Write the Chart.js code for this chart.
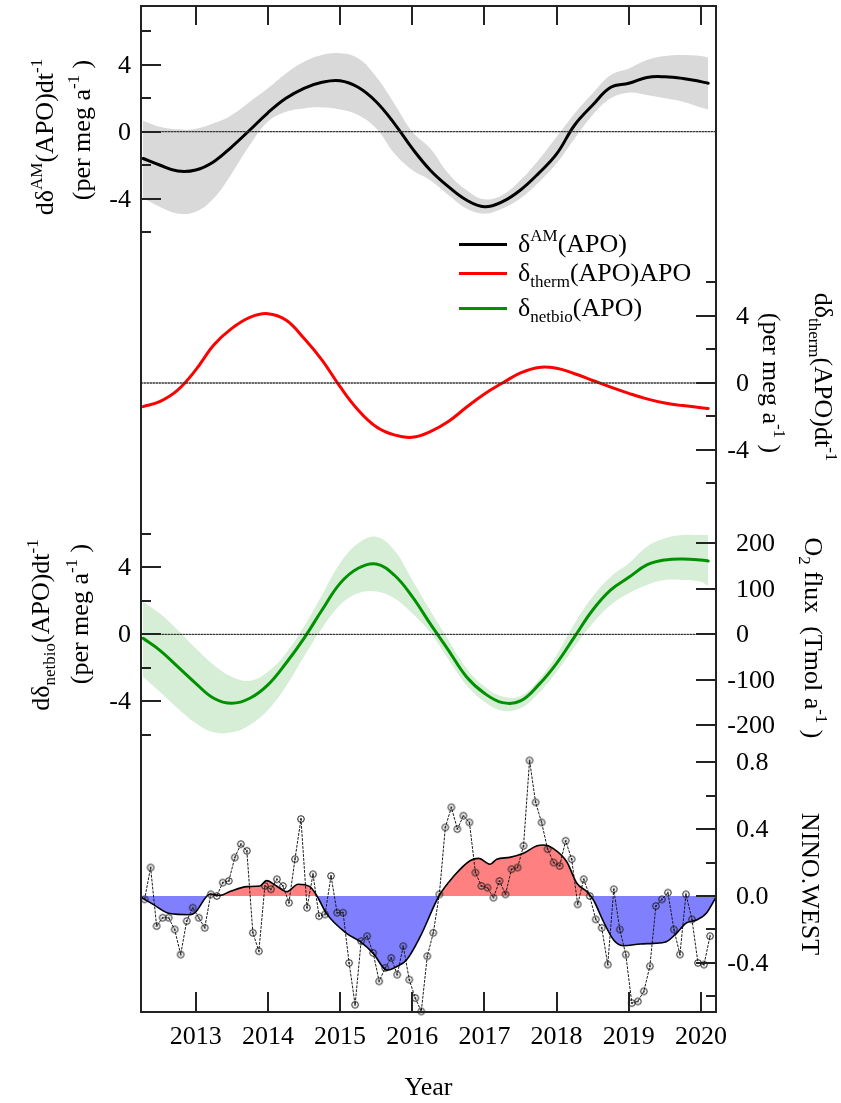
<!DOCTYPE html>
<html>
<head>
<meta charset="utf-8">
<title>APO flux components and NINO.WEST</title>
<script src="https://cdn.jsdelivr.net/npm/chart.js@4.4.1/dist/chart.umd.min.js"></script>
<style>
  html, body { margin: 0; padding: 0; background: #fff; }
  canvas { display: block; }
</style>
</head>
<body>
<canvas id="apoChart" width="841" height="1103"></canvas>
<script>
// --- DATA ---

// time axis of the three APO panels (decimal years)
const years = [2012.27, 2012.5, 2012.75, 2013, 2013.25, 2013.5, 2013.75, 2014, 2014.25, 2014.5, 2014.75,
  2015, 2015.25, 2015.5, 2015.75, 2016, 2016.25, 2016.5, 2016.75, 2017, 2017.25, 2017.5, 2017.75,
  2018, 2018.25, 2018.5, 2018.75, 2019, 2019.25, 2019.5, 2019.75, 2020, 2020.1];

// panel 1: d delta_AM(APO)/dt (per meg a-1) with its uncertainty band
const amLine = [-1.6, -1.99, -2.35, -2.29, -1.79, -0.9, 0.1, 1.13, 1.99, 2.59, 2.95,
  3.04, 2.65, 1.79, 0.5, -1.0, -2.3, -3.28, -4.08, -4.48, -4.18, -3.48, -2.49,
  -1.33, 0.4, 1.59, 2.65, 2.89, 3.24, 3.28, 3.18, 2.99, 2.89];
const amUpper = [0.66, 0.3, 0.14, 0.18, 0.5, 1.0, 1.79, 2.59, 3.48, 4.18, 4.58,
  4.68, 4.38, 3.28, 1.69, 0.0, -1.0, -2.49, -3.48, -4.04, -3.78, -2.89, -1.69,
  -0.3, 1.09, 2.29, 3.38, 3.78, 4.28, 4.52, 4.58, 4.52, 4.44];
const amLower = [-3.98, -4.48, -4.88, -4.78, -3.98, -2.49, -0.8, 0.6, 1.19, 1.39, 1.45,
  1.33, 1.0, 0.2, -1.29, -2.29, -2.9, -3.78, -4.58, -4.88, -4.58, -3.98, -3.04,
  -1.89, -0.4, 1.0, 1.99, 2.33, 2.19, 1.99, 1.79, 1.45, 1.33];

// panel 2: d delta_therm(APO)/dt
const thermLine = [-1.41, -1.11, -0.42, 0.78, 2.27, 3.26, 3.92, 4.14, 3.76, 2.67, 1.37,
  -0.22, -1.61, -2.61, -3.1, -3.24, -2.9, -2.3, -1.45, -0.65, 0.0, 0.6, 0.93,
  0.88, 0.55, 0.15, -0.25, -0.62, -0.95, -1.2, -1.35, -1.48, -1.52];

// panel 3: d delta_netbio(APO)/dt with its uncertainty band
const netbioLine = [-0.24, -0.94, -1.93, -2.93, -3.82, -4.12, -3.82, -3.02, -1.73, -0.24, 1.45,
  3.04, 3.94, 4.2, 3.54, 2.25, 0.62, -0.94, -2.53, -3.52, -4.08, -3.98, -3.02,
  -1.73, -0.14, 1.45, 2.65, 3.4, 4.14, 4.44, 4.5, 4.44, 4.38];
const netbioUpper = [1.95, 1.25, 0.26, -0.84, -1.83, -2.53, -2.77, -2.23, -1.13, 0.46, 2.35,
  4.24, 5.43, 5.83, 5.03, 3.24, 1.4, -0.34, -2.03, -3.12, -3.72, -3.68, -2.73,
  -1.23, 0.66, 2.25, 3.44, 4.24, 5.23, 5.73, 5.93, 5.93, 5.93];
const netbioLower = [-2.53, -3.42, -4.42, -5.31, -5.85, -5.85, -5.41, -4.52, -3.12, -1.33, 0.36,
  1.75, 2.45, 2.55, 2.15, 1.25, 0.1, -1.49, -3.02, -4.02, -4.56, -4.42, -3.52,
  -2.23, -0.74, 0.66, 1.75, 2.45, 2.95, 3.24, 3.24, 3.14, 2.89];

// panel 4: monthly NINO.WEST index, April 2012 .. February 2020
const ninoFirstMonth = { year: 2012, month: 4 };
const ninoMonthly = [-0.02, 0.17, -0.18, -0.13, -0.13, -0.20, -0.35, -0.15, -0.07, -0.13,
  -0.19, 0.01, 0.00, 0.08, 0.09, 0.23, 0.31, 0.27, -0.22, -0.33,
  0.06, 0.04, 0.10, 0.06, -0.04, 0.22, 0.46, -0.07, 0.13, -0.12,
  -0.11, 0.12, -0.10, -0.10, -0.40, -0.65, -0.27, -0.24, -0.34, -0.51,
  -0.43, -0.37, -0.47, -0.30, -0.50, -0.61, -0.69, -0.36, -0.22, 0.01,
  0.41, 0.53, 0.40, 0.48, 0.44, 0.14, 0.06, 0.05, -0.01, 0.09,
  0.01, 0.16, 0.17, 0.30, 0.81, 0.56, 0.44, 0.28, 0.20, 0.18,
  0.33, 0.22, -0.05, 0.10, 0.00, -0.14, -0.19, -0.41, 0.04, -0.20,
  -0.35, -0.64, -0.63, -0.57, -0.42, -0.06, -0.02, 0.02, -0.20, -0.35,
  0.01, -0.14, -0.40, -0.41, -0.24];

// smoothed NINO.WEST (the filled curve)
const ninoSmoothYears = [2012.25, 2012.41, 2012.64, 2012.92, 2012.99, 2013.2, 2013.34, 2013.49, 2013.71, 2013.89,
  2013.98, 2014.12, 2014.26, 2014.42, 2014.58, 2014.68, 2014.81, 2015.09, 2015.28, 2015.46,
  2015.65, 2015.78, 2015.92, 2016.11, 2016.37, 2016.57, 2016.8, 2016.92, 2017.08, 2017.17,
  2017.35, 2017.54, 2017.72, 2017.82, 2017.95, 2018.14, 2018.28, 2018.42, 2018.51, 2018.65,
  2018.79, 2018.92, 2019.16, 2019.34, 2019.52, 2019.66, 2019.8, 2019.94, 2020.08, 2020.21];
const ninoSmooth = [-0.01, -0.05, -0.105, -0.112, -0.1, 0.012, 0.004, 0.03, 0.056, 0.06,
  0.092, 0.06, 0.026, 0.07, 0.056, 0.0, -0.104, -0.223, -0.273, -0.343,
  -0.443, -0.423, -0.383, -0.243, 0.0, 0.116, 0.211, 0.225, 0.19, 0.22,
  0.231, 0.255, 0.299, 0.305, 0.285, 0.205, 0.076, 0.026, -0.024, -0.154,
  -0.263, -0.297, -0.287, -0.283, -0.273, -0.223, -0.16, -0.144, -0.1, -0.005];

// axis ticks
const yearTicks = [2013, 2014, 2015, 2016, 2017, 2018, 2019, 2020];
const apoMajor = [-4, 0, 4];
const apoMinor = [-6, -2, 2, 6];
const o2Ticks = [-200, -100, 0, 100, 200];
const ninoMajor = [-0.4, 0.0, 0.4, 0.8];
const ninoMinor = [-0.6, -0.2, 0.2, 0.6];

// --- HELPERS ---
const SERIF = '"Liberation Serif", "Times New Roman", serif';
const pts = (xs, ys) => xs.map((x, i) => ({ x: x, y: ys[i] }));

const ninoYears = ninoMonthly.map((v, i) => {
  const m = ninoFirstMonth.month - 1 + i;
  return ninoFirstMonth.year + Math.floor(m / 12) + ((m % 12) + 0.5) / 12;
});

// circled-dot marker used for the monthly index
const ring = document.createElement('canvas');
ring.width = 10;
ring.height = 10;
(function () {
  const rc = ring.getContext('2d');
  rc.strokeStyle = '#1a1a1a';
  rc.lineWidth = 1;
  rc.beginPath();
  rc.arc(5, 5, 3.3, 0, Math.PI * 2);
  rc.stroke();
  rc.fillStyle = '#1a1a1a';
  rc.beginPath();
  rc.arc(5, 5, 0.9, 0, Math.PI * 2);
  rc.fill();
})();

function segFont(s) {
  return (s.sup || s.sub ? 17 : 26) + 'px ' + SERIF;
}

function richWidth(ctx, segs) {
  let w = 0;
  segs.forEach((s) => {
    ctx.font = segFont(s);
    w += ctx.measureText(s.t).width;
  });
  return w;
}

// draws text with super/subscripts, baseline through (x, y), optionally rotated
function drawRich(ctx, segs, x, y, angle, centered) {
  ctx.save();
  ctx.translate(x, y);
  ctx.rotate(angle);
  ctx.textAlign = 'left';
  ctx.textBaseline = 'alphabetic';
  ctx.fillStyle = '#000';
  let cx = centered ? -richWidth(ctx, segs) / 2 : 0;
  segs.forEach((s) => {
    ctx.font = segFont(s);
    const dy = s.sup ? -11 : s.sub ? 6 : 0;
    ctx.fillText(s.t, cx, dy);
    cx += ctx.measureText(s.t).width;
  });
  ctx.restore();
}

const perMeg = [{ t: '(per meg a' }, { t: '-1', sup: true }, { t: ' )' }];

// frame, inward ticks, tick labels, axis titles and legend
const framePlugin = {
  id: 'frame',
  afterDraw(chart) {
    const ctx = chart.ctx;
    const a = chart.chartArea;
    const s = chart.scales;
    ctx.save();
    ctx.strokeStyle = '#222';
    ctx.lineWidth = 2;
    ctx.strokeRect(a.left, a.top, a.right - a.left, a.bottom - a.top);

    const yTick = (scale, vals, side, len) => {
      vals.forEach((v) => {
        const py = Math.round(scale.getPixelForValue(v));
        const x0 = side === 'left' ? a.left : a.right;
        ctx.beginPath();
        ctx.moveTo(x0, py);
        ctx.lineTo(side === 'left' ? x0 + len : x0 - len, py);
        ctx.stroke();
      });
    };
    const yLabel = (scale, vals, side, fmt) => {
      ctx.font = '26px ' + SERIF;
      ctx.textBaseline = 'middle';
      ctx.fillStyle = '#000';
      vals.forEach((v) => {
        const py = scale.getPixelForValue(v) + 1;
        const txt = fmt(v);
        if (side === 'left') {
          ctx.textAlign = 'right';
          ctx.fillText(txt, a.left - 10, py);
        } else {
          const neg = txt.charAt(0) === '-';
          ctx.textAlign = 'left';
          ctx.fillText(neg ? txt.slice(1) : txt, a.right + 20, py);
          if (neg) {
            ctx.textAlign = 'right';
            ctx.fillText('-', a.right + 20, py);
          }
        }
      });
    };

    // x ticks top and bottom, labels at the bottom
    yearTicks.forEach((yr) => {
      const px = Math.round(s.x.getPixelForValue(yr));
      ctx.beginPath();
      ctx.moveTo(px, a.top);
      ctx.lineTo(px, a.top + 19);
      ctx.moveTo(px, a.bottom);
      ctx.lineTo(px, a.bottom - 20);
      ctx.stroke();
    });
    ctx.font = '26px ' + SERIF;
    ctx.textAlign = 'center';
    ctx.textBaseline = 'alphabetic';
    ctx.fillStyle = '#000';
    yearTicks.forEach((yr) => ctx.fillText(String(yr), s.x.getPixelForValue(yr), a.bottom + 32));
    ctx.fillText('Year', (a.left + a.right) / 2, a.bottom + 83);

    // y ticks
    const intFmt = (v) => String(v);
    yTick(s.yAm, apoMajor, 'left', 20);
    yTick(s.yAm, apoMinor, 'left', 10);
    yLabel(s.yAm, apoMajor, 'left', intFmt);
    yTick(s.yTherm, apoMajor, 'right', 20);
    yTick(s.yTherm, apoMinor, 'right', 10);
    yLabel(s.yTherm, apoMajor, 'right', intFmt);
    yTick(s.yBio, apoMajor, 'left', 20);
    yTick(s.yBio, apoMinor, 'left', 10);
    yLabel(s.yBio, apoMajor, 'left', intFmt);
    yTick(s.yO2, o2Ticks, 'right', 20);
    yLabel(s.yO2, o2Ticks, 'right', intFmt);
    yTick(s.yNino, ninoMajor, 'right', 20);
    yTick(s.yNino, ninoMinor, 'right', 10);
    yLabel(s.yNino, ninoMajor, 'right', (v) => v.toFixed(1));

    // axis titles
    const up = -Math.PI / 2;
    const down = Math.PI / 2;
    drawRich(ctx, [{ t: 'dδ' }, { t: 'AM', sup: true }, { t: '(APO)dt' }, { t: '-1', sup: true }], 53, 137, up, true);
    drawRich(ctx, perMeg, 90, 130, up, true);
    drawRich(ctx, [{ t: 'dδ' }, { t: 'therm', sub: true }, { t: '(APO)dt' }, { t: '-1', sup: true }], 815, 377, down, true);
    drawRich(ctx, perMeg, 763, 383, down, true);
    drawRich(ctx, [{ t: 'dδ' }, { t: 'netbio', sub: true }, { t: '(APO)dt' }, { t: '-1', sup: true }], 49, 625, up, true);
    drawRich(ctx, perMeg, 88, 614, up, true);
    drawRich(ctx, [{ t: 'O' }, { t: '2', sub: true }, { t: ' flux  (Tmol a' }, { t: '-1', sup: true }, { t: ' )' }], 805, 638, down, true);
    drawRich(ctx, [{ t: 'NINO.WEST' }], 802, 884, down, true);

    // legend
    const legend = [
      { color: '#000', y: 252, segs: [{ t: 'δ' }, { t: 'AM', sup: true }, { t: '(APO)' }] },
      { color: '#ff0000', y: 281, segs: [{ t: 'δ' }, { t: 'therm', sub: true }, { t: '(APO)APO' }] },
      { color: '#009100', y: 316, segs: [{ t: 'δ' }, { t: 'netbio', sub: true }, { t: '(APO)' }] }
    ];
    legend.forEach((item) => {
      ctx.strokeStyle = item.color;
      ctx.lineWidth = 3;
      ctx.beginPath();
      ctx.moveTo(459, item.y - 7.5);
      ctx.lineTo(507, item.y - 7.5);
      ctx.stroke();
      drawRich(ctx, item.segs, 518, item.y, 0, false);
    });
    ctx.restore();
  }
};

const zeroLine = (axis) => ({
  data: [{ x: 2012.242, y: 0 }, { x: 2020.208, y: 0 }],
  yAxisID: axis,
  borderColor: '#333',
  borderWidth: 1.3,
  borderDash: [1.5, 1.5],
  pointRadius: 0,
  tension: 0
});

const band = (axis, xs, ys, color, fillNext) => ({
  data: pts(xs, ys),
  yAxisID: axis,
  borderColor: 'rgba(0,0,0,0)',
  borderWidth: 0,
  pointRadius: 0,
  backgroundColor: color,
  fill: fillNext ? '+1' : false
});

// --- CHART ---
new Chart(document.getElementById('apoChart'), {
  type: 'line',
  data: {
    datasets: [
      band('yAm', years, amUpper, 'rgb(217,217,217)', true),
      band('yAm', years, amLower, 'rgb(217,217,217)', false),
      band('yBio', years, netbioUpper, 'rgb(214,238,214)', true),
      band('yBio', years, netbioLower, 'rgb(214,238,214)', false),
      zeroLine('yAm'),
      zeroLine('yTherm'),
      zeroLine('yBio'),
      {
        data: pts(years, amLine),
        yAxisID: 'yAm',
        borderColor: '#000',
        borderWidth: 3,
        pointRadius: 0
      },
      {
        data: pts(years, thermLine),
        yAxisID: 'yTherm',
        borderColor: '#ff0000',
        borderWidth: 3,
        pointRadius: 0
      },
      {
        data: pts(years, netbioLine),
        yAxisID: 'yBio',
        borderColor: '#009100',
        borderWidth: 3,
        pointRadius: 0
      },
      {
        data: pts(ninoSmoothYears, ninoSmooth),
        yAxisID: 'yNino',
        borderColor: '#000',
        borderWidth: 1.6,
        pointRadius: 0,
        cubicInterpolationMode: 'monotone',
        fill: { target: { value: 0 }, above: 'rgb(255,128,128)', below: 'rgb(128,128,255)' }
      },
      {
        data: pts(ninoYears, ninoMonthly),
        yAxisID: 'yNino',
        borderColor: '#1a1a1a',
        borderWidth: 1,
        borderDash: [2, 2],
        tension: 0,
        pointStyle: ring,
        pointRadius: 4,
        clip: false
      }
    ]
  },
  options: {
    responsive: false,
    animation: false,
    devicePixelRatio: 1,
    events: [],
    layout: { padding: { left: 141, top: 6, right: 125, bottom: 91 } },
    elements: {
      line: { tension: 0.4, borderCapStyle: 'round', fill: false },
      point: { radius: 0 }
    },
    plugins: {
      legend: { display: false },
      tooltip: { enabled: false },
      filler: { drawTime: 'beforeDatasetsDraw', propagate: false }
    },
    scales: {
      x: { type: 'linear', display: false, bounds: 'data', min: 2012.242, max: 2020.208 },
      yAm: { type: 'linear', display: false, bounds: 'data', min: -52.555, max: 7.504 },
      yTherm: { type: 'linear', display: false, bounds: 'data', min: -37.552, max: 22.507 },
      yBio: { type: 'linear', display: false, bounds: 'data', min: -22.549, max: 37.51 },
      yO2: { type: 'linear', display: false, bounds: 'data', min: -831.4, max: 1383.0 },
      yNino: { type: 'linear', display: false, bounds: 'data', min: -0.6934, max: 5.32 }
    }
  },
  plugins: [framePlugin]
});
</script>
</body>
</html>
